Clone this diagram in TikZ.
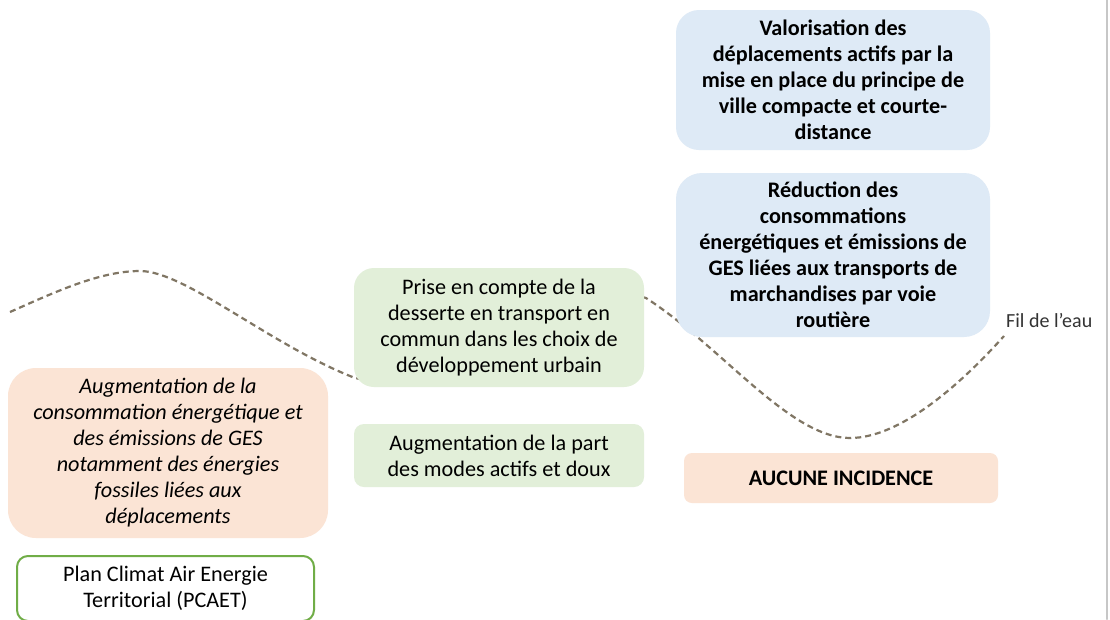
\documentclass[tikz,border=0pt]{standalone}
\usepackage{fontspec}
\setmainfont{Carlito}
\definecolor{bleu}{HTML}{DEEAF6}
\definecolor{vertclair}{HTML}{E2EFD9}
\definecolor{orange}{HTML}{FBE4D5}
\definecolor{vertbord}{HTML}{70AD47}
\definecolor{fil}{RGB}{128,118,100}
\begin{document}
\begin{tikzpicture}[x=1pt,y=-1pt,line cap=round,line join=round,
	boxtext/.style={align=center,inner sep=0pt,font=\fontsize{22.2}{26}\selectfont},
	bluebox/.style={boxtext,fill=bleu,font=\fontsize{22.2}{26}\selectfont\bfseries,minimum width=314pt},
	greenbox/.style={boxtext,fill=vertclair,minimum width=290pt},
	orangebox/.style={boxtext,fill=orange},
	wave/.style={color=fil,line width=2.2pt,line cap=butt,dash pattern=on 6pt off 4pt}]
	\useasboundingbox (0,0) rectangle (1110,619);
	\fill[white] (0,0) rectangle (1110,619);
	\draw[color=black!22,line width=2pt] (1107,0) -- (1107,619);
	% fil de l'eau
	\coordinate (filend) at (1004,336);
	\draw[wave] (10,312) .. controls (55,292) and (100,271) .. (140,271)
		.. controls (185,271) and (270,345) .. (355,378)
		.. controls (420,392) and (600,280) .. (646,298)
		.. controls (722,347) and (790,438) .. (850,438)
		.. controls (900,438) and (960,385) .. (filend);
	\node[anchor=west,inner sep=0pt,font=\fontsize{20}{24}\selectfont,color=black!80] (fil) at (1006,321) {Fil de l’eau};
	% incidences
	\node[bluebox,minimum height=140pt,rounded corners=23pt] (valorisation) at (833,80)
		{Valorisation des\\déplacements actifs par la\\mise en place du principe de\\ville compacte et courte-\\distance};
	\node[bluebox,minimum height=164pt,rounded corners=26pt] (reduction) at (833,255)
		{Réduction des\\consommations\\énergétiques et émissions de\\GES liées aux transports de\\marchandises par voie\\routière};
	\node[greenbox,minimum height=119pt,rounded corners=20pt] (prise) at (499,327.5)
		{Prise en compte de la\\desserte en transport en\\commun dans les choix de\\développement urbain};
	\node[greenbox,minimum height=63pt,rounded corners=10pt] (modes) at (499,455.5)
		{Augmentation de la part\\des modes actifs et doux};
	\node[orangebox,minimum width=320pt,minimum height=170pt,rounded corners=28pt,font=\fontsize{22.2}{26}\selectfont\itshape] (hausse) at (168,453)
		{Augmentation de la\\consommation énergétique et\\des émissions de GES\\notamment des énergies\\fossiles liées aux\\déplacements};
	\node[orangebox,minimum width=314pt,minimum height=50pt,rounded corners=8pt,font=\fontsize{22.2}{26}\selectfont\bfseries] (aucune) at (841,478)
		{AUCUNE INCIDENCE};
	\node[boxtext,draw=vertbord,line width=2pt,fill=white,minimum width=297pt,minimum height=65pt,rounded corners=11pt] (pcaet) at (165.5,588.5)
		{Plan Climat Air Energie\\Territorial (PCAET)};
\end{tikzpicture}
\end{document}
